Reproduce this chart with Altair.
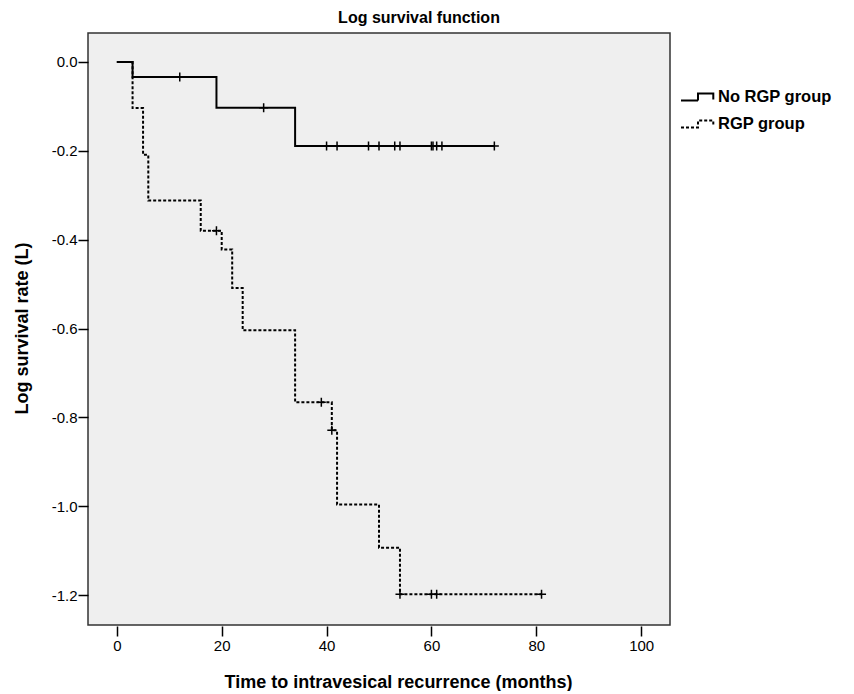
import altair as alt
import pandas as pd

# Step curves (time in months, log survival)
no_rgp_time = [0, 3, 19, 34, 72]
no_rgp_log = [0.0, -0.034, -0.103, -0.189, -0.189]
rgp_time = [0, 3, 5, 6, 16, 20, 22, 24, 34, 41, 42, 50, 54, 81]
rgp_log = [0.0, -0.104, -0.209, -0.312, -0.380, -0.422, -0.509, -0.604,
           -0.766, -0.829, -0.996, -1.093, -1.198, -1.198]

# Censored observations
no_rgp_cens_time = [12, 28, 40, 42, 48, 50, 53, 54, 60, 60.3, 61, 62, 72]
no_rgp_cens_log = [-0.034, -0.103, -0.189, -0.189, -0.189, -0.189, -0.189,
                   -0.189, -0.189, -0.189, -0.189, -0.189, -0.189]
rgp_cens_time = [19, 39, 41, 54, 60, 61, 81]
rgp_cens_log = [-0.380, -0.766, -0.829, -1.198, -1.198, -1.198, -1.198]

groups = ["No RGP group", "RGP group"]
x_ticks = [0, 20, 40, 60, 80, 100]
y_ticks = [0.0, -0.2, -0.4, -0.6, -0.8, -1.0, -1.2]

lines = pd.DataFrame(
    {"time": no_rgp_time + rgp_time,
     "log": no_rgp_log + rgp_log,
     "group": [groups[0]] * len(no_rgp_time) + [groups[1]] * len(rgp_time)}
)
cens = pd.DataFrame(
    {"time": no_rgp_cens_time + rgp_cens_time,
     "log": no_rgp_cens_log + rgp_cens_log,
     "group": [groups[0]] * len(no_rgp_cens_time) + [groups[1]] * len(rgp_cens_time)}
)

FONT = "Liberation Sans"

x = alt.X("time:Q", scale=alt.Scale(domain=[-5.5, 105.5], nice=False, zero=False),
          axis=alt.Axis(values=x_ticks, title="Time to intravesical recurrence (months)",
                        domain=False, grid=False, offset=1, tickSize=10, tickColor="black",
                        tickWidth=1.5, labelFontSize=15, labelPadding=2, labelColor="black",
                        labelFont=FONT, titleFont=FONT, titleFontSize=18, titleFontWeight="bold",
                        titleColor="black", titleY=47, titleX=310))
y = alt.Y("log:Q", scale=alt.Scale(domain=[-1.267, 0.065], nice=False, zero=False),
          axis=alt.Axis(values=y_ticks,
                        labelExpr="replace(format(datum.value, '.1f'), '\u2212', '-')",
                        title="Log survival rate (L)", domain=False, grid=False, tickSize=10,
                        tickColor="black", tickWidth=1.5, labelFontSize=15, labelPadding=1,
                        labelColor="black", labelFont=FONT, titleFont=FONT, titleFontSize=18,
                        titleFontWeight="bold", titleColor="black", titleX=-57, titleY=295))

dash = alt.StrokeDash(
    "group:N",
    scale=alt.Scale(domain=groups, range=[[1, 0], [3, 2]]),
    legend=alt.Legend(title=None, orient="none", legendX=592, legendY=46, padding=0,
                      symbolType="M-1,0.2H0V-0.2H0.9V0.15", symbolSize=1156,
                      symbolStrokeWidth=2, symbolStrokeColor="black", symbolFillColor="transparent",
                      labelFont=FONT, labelFontSize=16.5, labelFontWeight="bold", labelColor="black",
                      labelOffset=2, rowPadding=-8, labelLimit=200),
)

line = alt.Chart(lines).mark_line(interpolate="step-after", strokeWidth=2, color="black").encode(
    x=x, y=y, strokeDash=dash
)

marks = alt.Chart(cens).mark_point(shape="M0,-1V1M-1,0H1", size=81, filled=False,
                                   strokeWidth=1.5, color="black", opacity=1).encode(
    x="time:Q", y="log:Q"
)

chart = (line + marks).properties(
    width=582, height=592,
    title=alt.TitleParams("Log survival function", font=FONT, fontSize=16, fontWeight="bold",
                          color="black", anchor="middle", offset=7, dx=40),
    autosize=alt.AutoSizeParams(type="none"),
    padding={"left": 80, "top": 25, "right": 176, "bottom": 66},
    background="white",
).configure_view(
    fill="#EFEFEF", stroke="#333333", strokeWidth=1.5
)

chart.save("out.html", embed_options={"renderer": "svg", "actions": False})
